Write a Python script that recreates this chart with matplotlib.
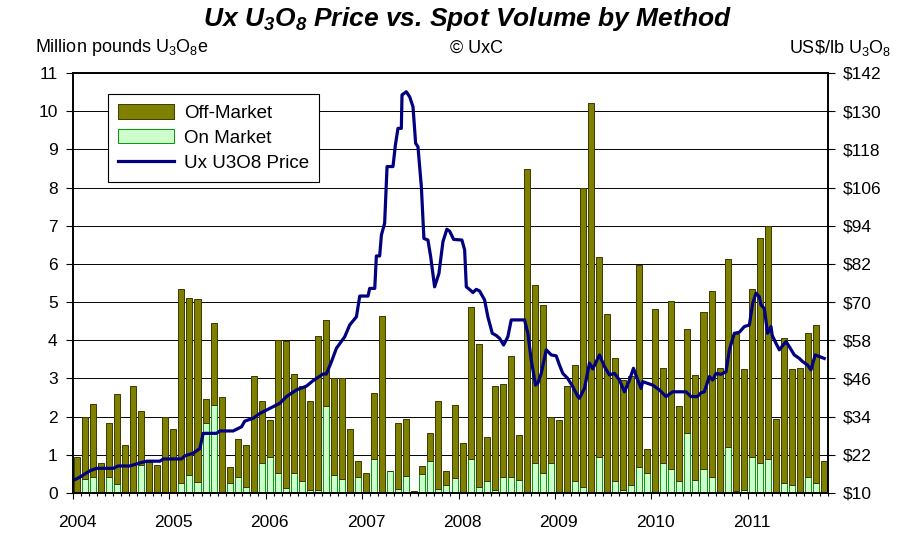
import numpy as np
import matplotlib
matplotlib.use("Agg")
import matplotlib.pyplot as plt
from matplotlib.transforms import ScaledTranslation

plt.rcParams['font.family'] = ['Liberation Sans', 'DejaVu Sans']
plt.rcParams['mathtext.fontset'] = 'custom'
plt.rcParams['mathtext.rm'] = 'Liberation Sans'
plt.rcParams['mathtext.bf'] = 'Liberation Sans:bold:italic'

# monthly spot volume, Jan 2004 .. Oct 2011 (million lb)
years = [2004, 2005, 2006, 2007, 2008, 2009, 2010, 2011]
total_volume = [
    0.94, 2.00, 2.32, 0.79, 1.84, 2.59, 1.27, 2.80, 2.16, 0.80, 0.74, 2.00,
    1.68, 5.33, 5.12, 5.07, 2.47, 4.44, 2.52, 0.68, 1.41, 1.27, 3.07, 2.42,
    1.90, 4.01, 3.97, 3.12, 2.79, 2.42, 4.11, 4.54, 3.01, 3.01, 1.68, 0.84,
    0.52, 2.63, 4.63, 0.58, 1.83, 1.94, 0.05, 0.72, 1.58, 2.42, 0.58, 2.31,
    1.31, 4.86, 3.91, 1.47, 2.80, 2.86, 3.60, 1.53, 8.49, 5.45, 4.92, 2.00,
    1.90, 2.80, 3.34, 8.00, 10.22, 6.19, 4.70, 3.54, 2.97, 3.06, 5.97, 1.15,
    4.81, 3.28, 5.04, 2.27, 4.29, 3.08, 4.75, 5.30, 3.28, 6.14, 4.17, 3.24,
    5.35, 6.67, 7.00, 1.95, 4.07, 3.24, 3.28, 4.18, 4.39, 0.83,
]
on_market = [
    0.00, 0.37, 0.42, 0.00, 0.42, 0.24, 0.00, 0.00, 0.74, 0.00, 0.00, 0.00,
    0.00, 0.26, 0.46, 0.30, 1.83, 2.31, 0.00, 0.26, 0.42, 0.15, 0.00, 0.79,
    0.94, 0.52, 0.13, 0.52, 0.31, 0.09, 0.09, 2.27, 0.46, 0.37, 0.00, 0.42,
    0.00, 0.89, 0.00, 0.58, 0.10, 0.45, 0.00, 0.51, 0.84, 0.10, 0.20, 0.40,
    0.00, 0.89, 0.15, 0.31, 0.09, 0.41, 0.41, 0.35, 0.00, 0.79, 0.52, 0.79,
    0.00, 0.00, 0.31, 0.15, 0.00, 0.94, 0.00, 0.31, 0.09, 0.20, 0.68, 0.52,
    0.00, 0.79, 0.63, 0.31, 1.57, 0.35, 0.63, 0.41, 0.00, 1.21, 0.04, 0.09,
    0.94, 0.79, 0.89, 0.00, 0.26, 0.20, 0.00, 0.41, 0.26, 0.00,
]

# Ux U3O8 price (US$/lb), time in months since Jan 2004
price_t = [
    -0.5, 0.37, 1.61, 2.45, 4.5, 5.13, 6.59, 7.62, 8.67, 10.32, 10.73, 13.02,
    13.43, 14.46, 15.3, 15.71, 17.37, 17.78, 19.44, 20.48, 20.89, 21.93, 22.76,
    24.41, 25.25, 26.08, 27.32, 28.57, 29.39, 30.63, 31.05, 31.68, 32.3, 33.33,
    33.95, 34.79, 35.2, 36.23, 36.44, 37.07, 37.27, 37.68, 37.9, 38.3, 38.6,
    39.34, 39.64, 39.96, 40.38, 40.46, 41.0, 41.42, 41.83, 42.16, 42.45, 42.87,
    43.19, 43.69, 44.03, 44.52, 45.06, 45.56, 46.05, 46.39, 46.89, 47.92, 48.26,
    48.47, 49.09, 49.29, 49.71, 50.12, 50.74, 51.15, 51.7, 52.2, 52.61, 53.11,
    53.64, 54.06, 55.72, 56.13, 56.55, 57.09, 57.37, 57.8, 58.42, 59.04, 59.66,
    60.07, 60.48, 61.1, 61.73, 62.35, 62.56, 63.18, 63.8, 64.21, 65.05, 65.67,
    66.29, 66.91, 67.54, 68.16, 68.78, 69.28, 69.81, 70.23, 70.43, 71.68, 72.51,
    73.34, 74.16, 75.83, 76.45, 77.24, 77.7, 78.1, 78.73, 79.14, 79.56, 80.18,
    80.8, 81.22, 81.84, 82.46, 83.08, 83.71, 84.12, 84.54, 84.95, 85.16, 85.57,
    85.98, 86.4, 86.56, 87.03, 87.44, 88.27, 88.68, 89.3, 89.93, 90.34, 90.96,
    91.38, 91.91, 93.03,
]
price_v = [
    13.9, 15.0, 17.0, 17.75, 17.75, 18.5, 18.5, 19.3, 20.0, 20.0, 20.7, 20.7,
    21.7, 22.5, 24.0, 28.75, 28.75, 29.5, 29.5, 30.8, 32.6, 33.5, 35.0,
    37.1, 38.2, 40.3, 42.4, 43.6, 45.3, 47.4, 47.4, 51.3, 55.5, 59.1,
    62.8, 65.4, 71.9, 71.9, 74.3, 74.3, 84.5, 84.5, 91.1, 94.8, 112.6,
    112.6, 119.4, 124.6, 124.6, 135.1, 136.1, 134.5, 131.4, 119.9, 118.8, 106.3,
    90.0, 89.5, 84.3, 74.8, 79.0, 89.0, 92.9, 92.3, 89.7, 89.5, 86.4,
    74.8, 73.5, 73.0, 74.0, 73.5, 70.7, 65.4, 60.2, 59.5, 58.6, 56.5,
    59.1, 64.4, 64.4, 60.2, 51.8, 43.9, 44.5, 47.6, 55.0, 53.4, 53.1,
    50.2, 47.6, 46.0, 43.4, 40.3, 39.8, 42.9, 50.8, 49.0, 53.4, 49.7,
    47.1, 47.6, 45.5, 41.8, 45.5, 49.2, 45.5, 42.9, 45.0, 43.9, 42.4,
    40.3, 41.8, 41.8, 40.3, 40.3, 41.5, 41.8, 46.6, 45.5, 47.6, 47.3,
    48.1, 55.0, 60.2, 60.5, 62.3, 62.8, 69.6, 72.8, 71.7, 69.1, 68.0,
    60.2, 62.3, 59.5, 57.0, 55.0, 57.6, 56.0, 53.4, 52.3, 51.3, 50.2,
    48.7, 53.4, 52.3,
]

months = np.arange(len(total_volume))
on_market = np.array(on_market)
off_market = np.array(total_volume) - on_market

fig = plt.figure(figsize=(9.07, 5.35), dpi=100)
ax = fig.add_axes([73/907, 42/535, 755/907, 420/535])

ax.bar(months, on_market, width=0.75, color='#CCFFCC', edgecolor='#009900',
       linewidth=0.7, label='On Market', zorder=2)
ax.bar(months, off_market, bottom=on_market, width=0.75, color='#808000',
       edgecolor='#3a3a00', linewidth=0.7, label='Off-Market', zorder=2)

ax.set_xlim(-0.5, len(total_volume) - 0.5)
ax.set_ylim(0, 11)
ax.set_yticks(range(0, 12))
ax.yaxis.grid(True, color='black', linewidth=0.7)
ax.set_axisbelow(True)

ax.set_xticks(np.arange(0, len(total_volume), 12) - 0.5)
ax.set_xticklabels([str(y) for y in years])
ax.set_xticks(np.arange(-0.5, len(total_volume), 1), minor=True)
ax.tick_params(axis='x', which='major', length=4.5, width=0.8, pad=11, labelsize=12.5)
ax.tick_params(axis='x', which='minor', length=2.5, width=0.8)
ax.tick_params(axis='y', length=5, width=0.8, pad=6, labelsize=12.5)
for lbl in ax.get_xticklabels():
    lbl.set_transform(lbl.get_transform() + ScaledTranslation(0.04, 0, fig.dpi_scale_trans))

ax2 = ax.twinx()
ax2.plot(price_t, price_v, color='#000080', linewidth=2.3, label='Ux U3O8 Price',
         solid_joinstyle='round')
ax2.set_ylim(10, 142)
ax2.set_yticks(range(10, 143, 12))
ax2.set_yticklabels(['$%d' % v for v in range(10, 143, 12)])
ax2.tick_params(axis='y', length=5, width=0.8, pad=6, labelsize=12.5)

for a in (ax, ax2):
    for s in a.spines.values():
        s.set_color('black')
        s.set_linewidth(1.2)

h1, l1 = ax.get_legend_handles_labels()
h2, l2 = ax2.get_legend_handles_labels()
leg = ax2.legend([h1[1], h1[0], h2[0]], [l1[1], l1[0], l2[0]],
                 loc='upper left', bbox_to_anchor=(0.046, 0.95),
                 fontsize=13.5, frameon=True, fancybox=False, framealpha=1,
                 edgecolor='black', handlelength=3.0, handleheight=0.8,
                 borderpad=0.55, labelspacing=0.38, handletextpad=0.5,
                 borderaxespad=0)
leg.get_frame().set_linewidth(0.8)

fig.text(468/907, 1 - 19/535,
         r"Ux U$\mathbf{_3}$O$\mathbf{_8}$ Price vs. Spot Volume by Method",
         fontsize=19, fontweight='bold', style='italic', ha='center', va='center')
fig.text(35/907, 1 - 48/535, r"Million pounds U$_3$O$_8$e",
         fontsize=13, ha='left', va='center')
fig.text(476/907, 1 - 48/535, "\u00a9 UxC", fontsize=13, ha='center', va='center')
fig.text(891/907, 1 - 48/535, r"US\$/lb U$_3$O$_8$",
         fontsize=13, ha='right', va='center')

fig.savefig("out.png", dpi=100)
